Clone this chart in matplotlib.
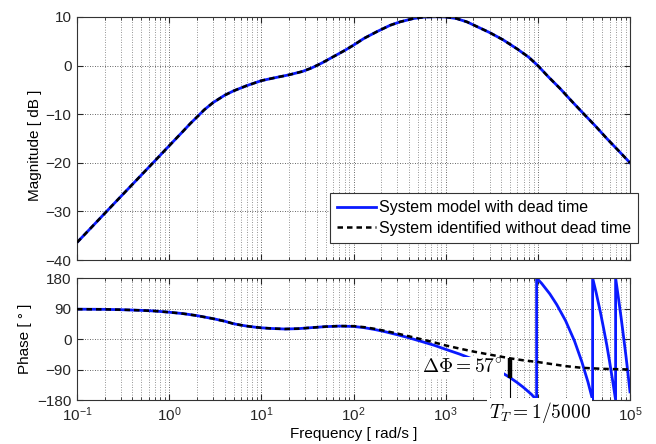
import matplotlib.pyplot as plt
import matplotlib.transforms as mtransforms
from matplotlib.ticker import LogLocator

plt.rcParams['font.family'] = ['Liberation Sans', 'DejaVu Sans']
plt.rcParams['mathtext.fontset'] = 'custom'
plt.rcParams['mathtext.rm'] = 'Liberation Sans'
plt.rcParams['mathtext.it'] = 'Liberation Sans:italic'
plt.rcParams['font.size'] = 11

# magnitude, both models lie on top of each other
w_mag = [0.1, 0.15, 0.2, 0.3, 0.5, 0.7, 1.0, 1.4, 1.7, 2.0, 2.4, 3.0, 4.0,
         5.0, 7.0, 10, 14, 20, 28, 35, 45, 60, 80, 100, 130, 180, 250, 320,
         450, 600, 800, 1000, 1300, 1700, 2200, 3000, 4200, 6000, 8000,
         10000, 13000, 17400, 23000, 31000, 42000, 56000, 75000, 100000]
mag_db = [-36.4, -32.9, -30.4, -26.9, -22.5, -19.6, -16.5, -13.6, -11.9,
          -10.6, -9.1, -7.6, -6.1, -5.2, -4.1, -3.1, -2.5, -1.9, -1.2, -0.5,
          0.5, 1.8, 3.1, 4.2, 5.6, 7.0, 8.3, 9.0, 9.7, 10.0, 10.05, 10.0, 9.7,
          9.0, 8.0, 6.8, 5.3, 3.4, 1.7, 0.0, -2.3, -4.7, -7.2, -9.8, -12.4,
          -15.0, -17.5, -20.0]

# phase of the identified system (no dead time)
w_ph = [0.1, 0.2, 0.3, 0.5, 0.7, 1.0, 1.4, 2.0, 2.5, 3.0, 4.0, 5.0, 6.0, 7.0,
        8.5, 10, 13, 18, 25, 35, 50, 70, 100, 130, 170, 220, 300, 400, 550,
        750, 1000, 1400, 2000, 3000, 5000, 7000, 10000, 15000, 20000, 30000,
        50000, 100000]
ph_nodelay = [88, 87.5, 86.5, 84.5, 82.5, 79, 75, 69, 64, 60, 52.5, 45, 41, 38,
              35, 33, 31, 29.5, 30.5, 33.5, 36.5, 38.3, 38, 35, 30, 24, 16, 8,
              -1, -10, -19, -28, -37, -46, -57, -63, -68, -75, -80, -85, -88,
              -90]

# phase of the model with dead time (wrapped to +-180)
w_ph_dt = [0.1, 0.2, 0.3, 0.5, 0.7, 1.0, 1.4, 2.0, 2.5, 3.0, 4.0, 5.0, 6.0,
           7.0, 8.5, 10, 13, 18, 25, 35, 50, 70, 100, 130, 170, 220, 300, 400,
           550, 750, 1000, 1400, 2000, 2500, 3000, 4000, 5000, 6000, 7000,
           8500, 9700, 9700, 11000, 13500, 16000, 20000, 25000, 30000, 35000,
           39300, 39300, 43000, 48000, 52000, 56000, 60000, 65000, 69800,
           69800, 75000, 80000, 85000, 90000, 95000, 100000]
ph_dt = [88, 87.5, 86.5, 84.5, 82.5, 79, 75, 69, 64, 60, 52.5, 45, 41, 38, 35,
         33, 31, 29.5, 30.5, 33.5, 36.5, 38, 37, 33.5, 28, 21.5, 12.5, 3.5,
         -7.5, -18.5, -30.5, -44, -60, -70, -80, -98, -114, -129, -143, -163,
         -180, 180, 164, 133, 102, 54, -6, -67, -127, -180, 180, 136, 76, 28,
         -18, -66, -125, -180, 180, 120, 64, 8, -46, -101, -156]

w_T = 5000
dphi_top = -57
dphi_bot = -116

x_major = [1e-1, 1e0, 1e1, 1e2, 1e3, 1e4, 1e5]
x_labels = [r'$10^{-1}$', r'$10^{0}$', r'$10^{1}$', r'$10^{2}$', r'$10^{3}$',
            '', r'$10^{5}$']

fig = plt.figure(figsize=(6.56, 4.44), dpi=100)
ax1 = fig.add_axes([77/656, 1-260/444, 553/656, 243/444])
ax2 = fig.add_axes([77/656, 1-400/444, 553/656, 122/444])

dash = (0, (2.2, 1.6))

ax1.plot(w_mag, mag_db, color='#0a1aff', lw=2.0, zorder=2,
         label='System model with dead time')
ax1.plot(w_mag, mag_db, color='black', lw=1.8, ls=dash, zorder=3,
         label='System identified without dead time')

ax2.plot(w_ph_dt, ph_dt, color='#0a1aff', lw=2.0, zorder=2)
ax2.plot(w_ph, ph_nodelay, color='black', lw=1.8, ls=dash, zorder=4)

# phase lag marker
ax2.plot([w_T, w_T], [dphi_top, dphi_bot], color='black', lw=3.2,
         solid_capstyle='butt', zorder=5)
ax2.plot([w_T, w_T], [dphi_bot, -180], color='black', lw=0.8, zorder=5)
ax2.text(4100, -83, r'$\Delta\Phi = 57^{\circ}$', ha='right', va='center',
         fontsize=14, math_fontfamily='cm', zorder=3,
         bbox=dict(facecolor='white', edgecolor='none', pad=1.0))
trans = mtransforms.blended_transform_factory(ax2.transData, ax2.transAxes)
ax2.text(1.05e4, -0.1, r'$T_T = 1/5000$', transform=trans, ha='center',
         va='center', fontsize=14, math_fontfamily='cm', zorder=10,
         clip_on=False, bbox=dict(facecolor='white', edgecolor='none', pad=1.0))

for ax in (ax1, ax2):
    ax.set_xscale('log')
    ax.set_xticks(x_major)
    ax.xaxis.set_minor_locator(LogLocator(base=10, subs=range(2, 10), numticks=20))
    ax.grid(True, which='major', ls=(0, (1, 2)), color='0.2', lw=0.6)
    ax.grid(True, which='minor', axis='x', ls=(0, (1, 2)), color='0.45', lw=0.6)
    ax.tick_params(which='both', direction='in', top=True, right=True,
                   labelsize=11, colors='0.15')
    ax.tick_params(which='major', length=4, pad=4)
    ax.tick_params(which='minor', length=2)
    for s in ax.spines.values():
        s.set_color('0.2')
        s.set_linewidth(0.8)
    ax.set_xlim(0.1, 1e5)

ax1.set_xticklabels([''] * len(x_major))
ax1.set_ylim(-40, 10)
ax1.set_yticks([-40, -30, -20, -10, 0, 10])
ax1.set_ylabel('Magnitude [ dB ]', fontsize=11)
ax1.yaxis.set_label_coords(-0.064, 0.47)

ax2.set_xticklabels(x_labels)
ax2.set_ylim(-180, 180)
ax2.set_yticks([-180, -90, 0, 90, 180])
ax2.set_ylabel('Phase [ \u00b0 ]', fontsize=11)
ax2.yaxis.set_label_coords(-0.081, 0.5)
ax2.set_xlabel('Frequency [ rad/s ]', fontsize=11, labelpad=2)

leg = ax1.legend(loc='lower left', bbox_to_anchor=(0.4575, 0.07),
                 borderaxespad=0, fancybox=False, framealpha=1,
                 edgecolor='0.2', handlelength=2.4, handletextpad=0.2,
                 borderpad=0.45, labelspacing=0.35, fontsize=11.5)
leg.get_frame().set_linewidth(0.8)

fig.savefig('out.png', dpi=100)
